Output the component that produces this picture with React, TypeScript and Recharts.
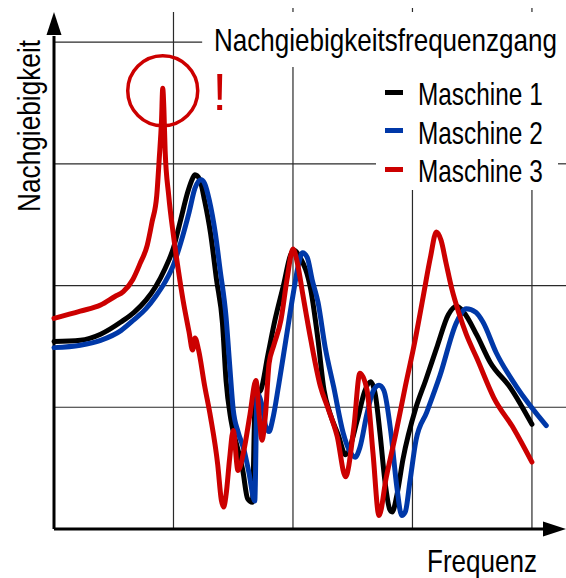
import React from 'react';
import { LineChart, Line, XAxis, YAxis, ReferenceLine, ReferenceDot, Legend, Customized } from 'recharts';

const FONT = "'Liberation Sans Narrow', 'Arial Narrow', 'Liberation Sans', Arial, sans-serif";

const title = 'Nachgiebigkeitsfrequenzgang';
const xLabel = 'Frequenz';
const yLabel = 'Nachgiebigkeit';
const seriesNames = ['Maschine 1', 'Maschine 2', 'Maschine 3'];
const seriesColors = ['#000000', '#0038a8', '#cc0000'];

// Maschine 1 (black)
const m1Freq = [0.00,0.22,0.39,0.56,0.67,0.77,0.85,0.93,1.00,1.06,1.12,1.16,1.18,1.22,1.26,1.31,1.36,1.41,1.44,1.48,1.54,1.58,1.62,1.66,1.685,1.73,1.79,1.85,1.92,1.98,2.01,2.06,2.15,2.21,2.26,2.31,2.38,2.44,2.54,2.60,2.65,2.69,2.73,2.77,2.81,2.83,2.87,2.92,3.03,3.11,3.21,3.30,3.37,3.43,3.54,3.65,3.82,4.00];
const m1Val = [1.54,1.55,1.60,1.70,1.78,1.88,1.99,2.14,2.31,2.54,2.77,2.88,2.91,2.87,2.70,2.43,2.05,1.69,1.22,0.90,0.65,0.48,0.25,0.22,1.10,1.14,1.43,1.72,2.00,2.25,2.29,2.23,1.96,1.55,1.14,0.95,0.77,0.61,0.90,1.13,1.21,1.10,0.77,0.39,0.16,0.14,0.28,0.57,1.00,1.22,1.51,1.76,1.83,1.78,1.59,1.37,1.16,0.86];

// Maschine 2 (blue)
const m2Freq = [0.00,0.22,0.39,0.56,0.67,0.77,0.85,0.93,1.00,1.06,1.13,1.18,1.23,1.26,1.30,1.35,1.39,1.44,1.47,1.50,1.54,1.59,1.63,1.68,1.70,1.74,1.77,1.80,1.83,1.88,1.94,2.00,2.05,2.08,2.12,2.16,2.21,2.27,2.34,2.42,2.48,2.52,2.56,2.62,2.67,2.72,2.76,2.82,2.87,2.91,2.94,2.98,3.03,3.12,3.23,3.37,3.45,3.53,3.59,3.70,3.87,4.12];
const m2Val = [1.49,1.51,1.55,1.63,1.72,1.81,1.91,2.03,2.17,2.35,2.60,2.80,2.87,2.84,2.70,2.43,2.13,1.74,1.35,0.98,0.80,0.65,0.47,0.23,1.12,1.02,0.85,0.80,0.90,1.18,1.55,1.92,2.19,2.27,2.23,2.05,1.86,1.49,1.17,0.79,0.63,0.59,0.67,0.95,1.13,1.18,1.14,0.79,0.34,0.11,0.14,0.40,0.73,0.96,1.26,1.70,1.81,1.78,1.70,1.45,1.17,0.85];

// Maschine 3 (red)
const m3Freq = [0.00,0.22,0.39,0.51,0.58,0.66,0.72,0.78,0.82,0.86,0.88,0.90,0.91,0.92,0.93,0.96,1.00,1.04,1.08,1.13,1.16,1.18,1.21,1.26,1.31,1.37,1.40,1.42,1.44,1.47,1.50,1.54,1.59,1.64,1.69,1.72,1.74,1.77,1.80,1.84,1.90,1.95,2.00,2.04,2.08,2.15,2.23,2.29,2.37,2.44,2.51,2.56,2.62,2.67,2.72,2.78,2.86,2.94,3.02,3.09,3.15,3.20,3.24,3.28,3.33,3.39,3.45,3.54,3.68,3.85,4.00];
const m3Val = [1.73,1.79,1.84,1.91,1.95,2.05,2.18,2.33,2.52,2.74,3.03,3.36,3.62,3.44,3.11,2.74,2.41,2.13,1.88,1.62,1.47,1.57,1.47,1.18,0.92,0.53,0.24,0.18,0.28,0.58,0.81,0.48,0.65,0.94,1.22,0.90,0.73,0.94,1.36,1.51,1.72,2.05,2.30,2.17,1.94,1.55,1.17,1.00,0.76,0.43,0.84,1.28,1.14,0.62,0.11,0.42,0.78,1.17,1.54,1.91,2.23,2.44,2.37,2.19,1.97,1.77,1.60,1.40,1.08,0.82,0.55];

// grid positions (axis units) and the highlighted resonance
const gridFreqs = [1, 2, 3, 4];
const gridVals = [1, 2, 3, 4];
const peakFreq = 0.91;
const peakVal = 3.60;

const X_MAX = 4.285;
const Y_MAX = 4.28;
const TOP_TICK = 4.247;

const toPoints = (f: number[], v: number[]) => f.map((x, i) => ({ f: x, v: v[i] }));
const seriesData = [toPoints(m1Freq, m1Val), toPoints(m2Freq, m2Val), toPoints(m3Freq, m3Val)];

const GRID = '#2a2a2a';

const vSegments: Record<number, [number, number][]> = {
  1: [[0, TOP_TICK]],
  2: [[0, 3.795], [TOP_TICK, Y_MAX]],
  3: [[0, 2.785], [TOP_TICK, Y_MAX]],
  4: [[0, 2.785], [TOP_TICK, Y_MAX]],
};
const hSegments: Record<number, [number, number][]> = {
  1: [[0, X_MAX]],
  2: [[0, X_MAX]],
  3: [[0, 2.695], [4.218, X_MAX]],
  4: [[0, 1.24]],
};

const ROW = 38.5;

const LegendContent = () => (
  <div style={{ position: 'relative', width: 186, height: 120, fontFamily: FONT }}>
    {seriesNames.map((name, i) => (
      <React.Fragment key={name}>
        <div
          style={{
            position: 'absolute',
            left: 5,
            top: 14.5 + i * ROW,
            width: 18,
            height: 5,
            background: seriesColors[i],
          }}
        />
        <span
          style={{
            position: 'absolute',
            left: 38,
            top: i * ROW,
            fontSize: 32,
            lineHeight: `${ROW}px`,
            color: '#000',
            whiteSpace: 'nowrap',
            display: 'inline-block',
            transform: 'scaleX(0.762)',
            transformOrigin: 'left center',
          }}
        >
          {name}
        </span>
      </React.Fragment>
    ))}
  </div>
);

const Texts = () => (
  <g fontFamily={FONT} fill="#000" fontSize={32}>
    <text transform="translate(214,51) scale(0.814,1)">{title}</text>
    <text transform="translate(427,572) scale(0.814,1)">{xLabel}</text>
    <text transform="translate(40,212) rotate(-90) scale(0.82,1)">{yLabel}</text>
  </g>
);

const Exclaim = (props: any) => {
  const vb = props.viewBox || { x: 127, y: 56, width: 70, height: 70 };
  return (
    <text x={vb.x + vb.width + 22} y={vb.y + vb.height / 2 + 19} fill="#cc0000" fontSize={52} textAnchor="middle" fontFamily={FONT}>
      !
    </text>
  );
};

export default function App() {
  return (
    <div style={{ position: 'absolute', left: 0, top: 0, background: '#fff' }}>
      <LineChart width={566} height={578} margin={{ top: 8, right: 0, bottom: 49, left: 54 }}>
        <XAxis type="number" dataKey="f" domain={[0, X_MAX]} hide />
        <YAxis type="number" domain={[0, Y_MAX]} hide />
        {gridFreqs.flatMap((g) =>
          vSegments[g].map((s, j) => (
            <ReferenceLine key={`v${g}-${j}`} segment={[{ x: g, y: s[0] }, { x: g, y: s[1] }]} stroke={GRID} strokeWidth={1.2} ifOverflow="visible" />
          ))
        )}
        {gridVals.flatMap((g) =>
          hSegments[g].map((s, j) => (
            <ReferenceLine key={`h${g}-${j}`} segment={[{ x: s[0], y: g }, { x: s[1], y: g }]} stroke={GRID} strokeWidth={1.2} ifOverflow="visible" />
          ))
        )}
        <ReferenceLine segment={[{ x: 0, y: 0 }, { x: 4.12, y: 0 }]} stroke="#000" strokeWidth={3} ifOverflow="visible" />
        <ReferenceLine segment={[{ x: 0, y: 0 }, { x: 0, y: 4.05 }]} stroke="#000" strokeWidth={3} ifOverflow="visible" />
        <ReferenceDot
          x={X_MAX}
          y={0}
          r={1}
          ifOverflow="visible"
          shape={(p: any) => (
            <polygon points={`${p.cx - 23},${p.cy - 7.5} ${p.cx},${p.cy} ${p.cx - 23},${p.cy + 7.5}`} fill="#000" />
          )}
        />
        <ReferenceDot
          x={0}
          y={TOP_TICK}
          r={1}
          ifOverflow="visible"
          shape={(p: any) => (
            <polygon points={`${p.cx - 7.5},${p.cy + 23} ${p.cx},${p.cy} ${p.cx + 7.5},${p.cy + 23}`} fill="#000" />
          )}
        />
        {seriesData.map((d, i) => (
          <Line
            key={seriesNames[i]}
            data={d}
            dataKey="v"
            name={seriesNames[i]}
            type="monotone"
            stroke={seriesColors[i]}
            strokeWidth={5}
            strokeLinejoin="round"
            strokeLinecap="round"
            dot={false}
            activeDot={false}
            isAnimationActive={false}
          />
        ))}
        <ReferenceDot
          x={peakFreq}
          y={peakVal}
          r={35}
          fill="none"
          stroke="#cc0000"
          strokeWidth={3.5}
          ifOverflow="visible"
          label={<Exclaim />}
        />
        <Customized component={Texts} />
        <Legend
          layout="vertical"
          align="center"
          verticalAlign="middle"
          wrapperStyle={{ left: 380, top: 75, width: 186, height: 120 }}
          content={<LegendContent />}
        />
      </LineChart>
    </div>
  );
}
